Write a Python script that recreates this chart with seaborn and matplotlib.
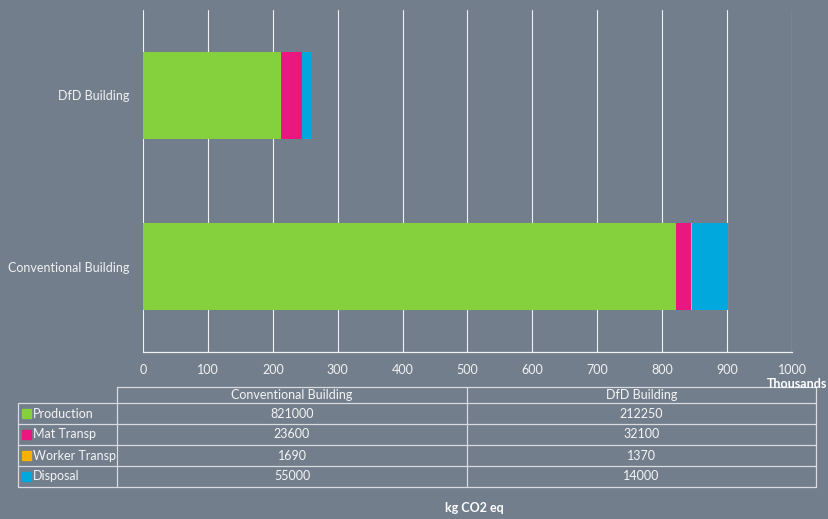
import matplotlib
matplotlib.use("Agg")
import matplotlib.pyplot as plt
import seaborn as sns
import pandas as pd
import numpy as np

categories = ["Conventional Building", "DfD Building"]
series = ["Production", "Mat Transp", "Worker Transp", "Disposal"]
production = [821000, 212250]
mat_transp = [23600, 32100]
worker_transp = [1690, 1370]
disposal = [55000, 14000]
x_ticks = [0, 100, 200, 300, 400, 500, 600, 700, 800, 900, 1000]

colors = ["#84D13D", "#E9177F", "#FFB000", "#00A8DD"]
bg = "#737E8C"
W, H = 829, 519

sns.set_theme(style="white")
plt.rcParams["font.family"] = ["Lato", "DejaVu Sans"]

fig = plt.figure(figsize=(W / 100, H / 100), dpi=100, facecolor=bg)
ax = fig.add_axes([143 / W, 1 - 352 / H, (792 - 143) / W, (352 - 10) / H])
ax.set_facecolor(bg)

vals = np.array([production, mat_transp, worker_transp, disposal], dtype=float) / 1000.0
cum = np.cumsum(vals, axis=0)
order = ["DfD Building", "Conventional Building"]

for i in range(len(series) - 1, -1, -1):
    df = pd.DataFrame({"cat": categories, "val": cum[i]})
    sns.barplot(data=df, x="val", y="cat", order=order, orient="h",
                color=colors[i], width=0.51, ax=ax, zorder=2,
                saturation=1, edgecolor="none", linewidth=0)

ax.set_xlim(0, 1000)
ax.set_ylim(1.5, -0.5)
ax.set_xticks(x_ticks)
ax.set_xticklabels([str(t) for t in x_ticks])
for t in x_ticks:
    ax.axvline(t, color="#F2F2F2", lw=0.8, zorder=1)
for s in ["top", "right", "left"]:
    ax.spines[s].set_visible(False)
ax.spines["bottom"].set_color("#F2F2F2")
ax.spines["bottom"].set_linewidth(0.9)
ax.tick_params(axis="both", length=0, colors="#F2F2F2", labelsize=9)
ax.tick_params(axis="x", pad=9)
ax.tick_params(axis="y", pad=10)
ax.set_xlabel("")
ax.set_ylabel("")

fig.text(827 / W, 1 - 384 / H, "Thousands", color="white", fontsize=9,
         fontweight="bold", ha="right", va="center")

# data table
line_c = "#D8DCE0"
def fx(px):
    return px / W
def fy(py):
    return 1 - py / H

col_x = [18, 117, 467, 816]
row_y = [387, 403, 424, 445, 466, 487]
fig.add_artist(plt.Line2D([fx(117), fx(816)], [fy(387), fy(387)], color=line_c, lw=0.9))
for yy in row_y[1:]:
    fig.add_artist(plt.Line2D([fx(18), fx(816)], [fy(yy), fy(yy)], color=line_c, lw=0.9))
fig.add_artist(plt.Line2D([fx(18), fx(18)], [fy(403), fy(487)], color=line_c, lw=0.9))
for xx in col_x[1:]:
    fig.add_artist(plt.Line2D([fx(xx), fx(xx)], [fy(387), fy(487)], color=line_c, lw=0.9))

txt_c = "#F5F5F5"
for j, c in enumerate(categories):
    fig.text(fx((col_x[j + 1] + col_x[j + 2]) / 2), fy((387 + 403) / 2), c,
             color=txt_c, fontsize=9, ha="center", va="center")
table_vals = [production, mat_transp, worker_transp, disposal]
for i, s in enumerate(series):
    yc = (row_y[i + 1] + row_y[i + 2]) / 2
    fig.patches.append(plt.Rectangle((fx(22), fy(yc + 4.5)), 9 / W, 9 / H,
                                     transform=fig.transFigure, color=colors[i],
                                     figure=fig))
    fig.text(fx(33), fy(yc), s, color=txt_c, fontsize=9, ha="left", va="center")
    for j in range(2):
        fig.text(fx((col_x[j + 1] + col_x[j + 2]) / 2), fy(yc), str(table_vals[i][j]),
                 color=txt_c, fontsize=9, ha="center", va="center")

fig.text(fx(474), fy(508), "kg CO2 eq", color="white", fontsize=9,
         fontweight="bold", ha="center", va="center")

fig.savefig("out.png", dpi=100, facecolor=bg)
